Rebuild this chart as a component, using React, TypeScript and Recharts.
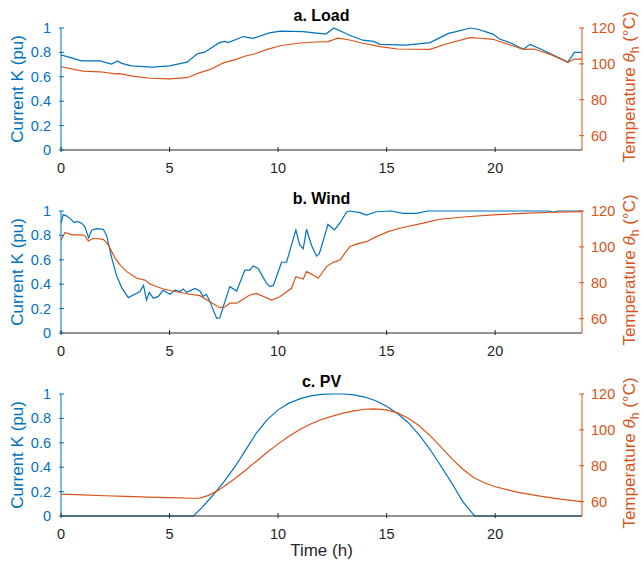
import { LineChart, Line, XAxis, YAxis } from "recharts"

const BLUE = "#0072BD"
const ORANGE = "#D95319"
const DARK = "#262626"
const FONT = "'Liberation Sans', Arial, Helvetica, sans-serif"

const timeTicks = [0, 5, 10, 15, 20]
const currentTicks = [0, 0.2, 0.4, 0.6, 0.8, 1]
const tempTicks = [60, 80, 100, 120]

// [time (h), K (pu)] and [time (h), theta_h (°C)]
const loadCurrent = [
  [0, 0.78], [0.95, 0.73], [1.8, 0.73], [2.33, 0.705], [2.6, 0.73], [2.8, 0.71],
  [3.25, 0.69], [4.2, 0.68], [5.0, 0.69], [5.8, 0.72], [6.3, 0.79], [6.6, 0.8],
  [7.3, 0.88], [7.55, 0.89], [7.7, 0.88], [8.4, 0.93], [8.85, 0.915], [9.6, 0.96],
  [10.1, 0.975], [11.15, 0.97], [12.2, 0.95], [12.57, 1.0], [13.3, 0.94], [13.9, 0.9],
  [14.4, 0.89], [14.7, 0.866], [15.9, 0.86], [17.0, 0.88], [17.85, 0.956], [18.2, 0.97],
  [18.85, 1.0], [19.2, 0.99], [19.9, 0.95], [20.2, 0.91], [20.75, 0.875], [21.3, 0.825],
  [21.6, 0.866], [22.2, 0.82], [23.35, 0.72], [23.65, 0.8], [24, 0.8],
]
const loadTemp = [
  [0, 98.4], [1, 96], [1.8, 95.6], [2.5, 94.4], [2.7, 94.6], [3.3, 93.2], [4.1, 92],
  [5, 91.6], [5.8, 92.3], [6.4, 95.1], [6.9, 97], [7.5, 100.7], [8, 102.2], [8.5, 104.4],
  [8.9, 105.5], [9.5, 108.1], [10.1, 110.1], [10.9, 111.5], [11.7, 112.2], [12.3, 112.4],
  [12.75, 114.3], [13.3, 113.3], [13.9, 111.5], [14.7, 109.6], [15.5, 108.3], [17, 108.1],
  [17.85, 111.5], [18.85, 114.6], [19.3, 114.3], [19.9, 113.7], [20.7, 110.5], [21.3, 108.1],
  [21.8, 108.3], [22.6, 105], [23.35, 100.9], [23.65, 102.7], [24, 102.6],
]

const windCurrent = [
  [0, 0.9], [0.1, 0.97], [0.25, 0.96], [0.5, 0.925], [0.6, 0.905], [0.75, 0.915],
  [0.95, 0.9], [1.1, 0.87], [1.27, 0.78], [1.42, 0.845], [1.65, 0.855], [1.95, 0.85],
  [2.1, 0.8], [2.33, 0.62], [2.56, 0.47], [2.8, 0.37], [3.1, 0.29], [3.4, 0.317],
  [3.64, 0.34], [3.8, 0.39], [3.94, 0.27], [4.07, 0.333], [4.25, 0.284], [4.48, 0.3],
  [4.71, 0.35], [5.02, 0.317], [5.25, 0.352], [5.48, 0.34], [5.63, 0.36], [5.79, 0.333],
  [6.17, 0.366], [6.4, 0.344], [6.55, 0.3], [6.7, 0.317], [6.86, 0.257], [7.17, 0.12],
  [7.32, 0.125], [7.55, 0.257], [7.78, 0.38], [8.09, 0.344], [8.47, 0.516], [8.7, 0.516],
  [8.85, 0.55], [9.08, 0.53], [9.47, 0.407], [9.62, 0.38], [9.78, 0.39], [10.16, 0.58],
  [10.39, 0.58], [10.82, 0.845], [11.0, 0.72], [11.16, 0.69], [11.31, 0.85], [11.54, 0.72],
  [11.77, 0.63], [11.9, 0.65], [12.3, 0.89], [12.6, 0.845], [12.84, 0.9], [13.15, 0.99],
  [13.3, 1.0], [13.77, 0.986], [14.07, 0.967], [14.53, 0.994], [15.2, 1.0], [15.76, 0.98],
  [16.37, 0.98], [16.9, 1.0], [22.5, 1.0], [22.7, 0.99], [22.9, 1.0], [24, 1.0],
]
const windTemp = [
  [0, 103.5], [0.18, 108], [0.5, 106.7], [0.95, 106.7], [1.1, 106.2], [1.26, 103.3],
  [1.49, 104.8], [1.95, 104.2], [2.18, 101.1], [2.49, 93.7], [2.72, 90], [3.03, 86.2],
  [3.49, 82.5], [3.87, 81.5], [4.1, 79.3], [4.71, 76.5], [5.32, 75], [5.94, 73.6],
  [6.4, 72.8], [6.86, 69.4], [7.32, 66.1], [7.55, 66.5], [7.78, 68.6], [8.09, 68.6],
  [8.7, 73.2], [9.0, 74.1], [9.7, 70.4], [10.08, 72.2], [10.39, 75], [10.62, 76.9],
  [10.82, 83.4], [11.16, 82.1], [11.31, 86.2], [11.62, 84.3], [11.85, 82.5], [12.23, 89],
  [12.54, 91.4], [12.85, 92.7], [13.3, 100.1], [13.6, 101.5], [14.07, 102.9], [14.53, 105.7],
  [15.07, 108.5], [15.6, 110.4], [16.68, 113.2], [17.45, 115.4], [18.68, 116.8], [19.9, 117.8],
  [21.28, 118.7], [22.66, 119.3], [24, 119.6],
]

const pvCurrent = [
  [0, 0], [6.1, 0], [6.5, 0.07], [7, 0.17], [7.5, 0.28], [8, 0.4], [8.5, 0.54], [9, 0.68],
  [9.5, 0.79], [10, 0.87], [10.5, 0.925], [11, 0.96], [11.5, 0.985], [12, 0.997], [12.5, 1],
  [13, 1], [13.5, 0.993], [14, 0.975], [14.5, 0.945], [15, 0.9], [15.5, 0.84], [16, 0.765],
  [16.5, 0.665], [17, 0.545], [17.5, 0.41], [18, 0.27], [18.5, 0.12], [19.05, 0], [24, 0],
]
const pvTemp = [
  [0, 64.2], [1, 63.8], [2, 63.3], [3, 62.9], [4, 62.5], [5, 62.2], [6, 61.9], [6.4, 62.0],
  [6.8, 63.5], [7.2, 66], [7.6, 69.3], [8, 72.8], [8.5, 77.5], [9, 82.5], [9.5, 87.5],
  [10, 92.2], [10.5, 96.5], [11, 100.2], [11.5, 103.3], [12, 105.8], [12.5, 107.7],
  [13, 109.3], [13.5, 110.6], [14, 111.5], [14.4, 111.7], [15, 111.1], [15.5, 109.5],
  [16, 106.5], [16.5, 102.3], [17, 96.8], [17.5, 90.5], [18, 84], [18.5, 78.2], [19, 73.5],
  [19.5, 70.5], [20, 68.3], [21, 65.3], [22, 63.2], [23, 61.4], [24, 60],
]

const toPoints = (pairs: number[][]) => pairs.map(([t, v]) => ({ t, v }))

const TICK_FONT = 14.5
const LABEL_FONT = 17
const PLOT_TOP = 28
const PLOT_H = 122

function BottomTick({ x, y, payload }: any) {
  return (
    <g>
      <line x1={x} y1={y} x2={x} y2={y - 5} stroke={DARK} />
      <text x={x} y={y + 21} textAnchor="middle" fill={DARK} fontSize={TICK_FONT} fontFamily={FONT}>
        {payload.value}
      </text>
    </g>
  )
}

function TopTick({ x, y }: any) {
  return <line x1={x} y1={y} x2={x} y2={y + 5} stroke={DARK} />
}

function LeftTick({ x, y, payload }: any) {
  return (
    <g>
      <line x1={x} y1={y} x2={x + 5} y2={y} stroke={BLUE} />
      <text x={x - 8} y={y + 5} textAnchor="end" fill={BLUE} fontSize={TICK_FONT} fontFamily={FONT}>
        {payload.value}
      </text>
    </g>
  )
}

function RightTick({ x, y, payload }: any) {
  return (
    <g>
      <line x1={x} y1={y} x2={x - 5} y2={y} stroke={ORANGE} />
      <text x={x + 7} y={y + 5} textAnchor="start" fill={ORANGE} fontSize={TICK_FONT} fontFamily={FONT}>
        {payload.value}
      </text>
    </g>
  )
}

const leftLabel = ({ viewBox }: any) => {
  const cx = 23
  const cy = viewBox.y + viewBox.height / 2
  return (
    <text x={cx} y={cy} transform={`rotate(-90 ${cx} ${cy})`} textAnchor="middle"
      fill={BLUE} fontSize={LABEL_FONT} fontFamily={FONT}>
      Current K (pu)
    </text>
  )
}

const rightLabel = ({ viewBox }: any) => {
  const cx = viewBox.x + 53
  const cy = viewBox.y + viewBox.height / 2 - 2
  return (
    <text x={cx} y={cy} transform={`rotate(-90 ${cx} ${cy})`} textAnchor="middle"
      fill={ORANGE} fontSize={LABEL_FONT} fontFamily={FONT}>
      Temperature <tspan fontStyle="italic">θ</tspan>
      <tspan dy={4} fontSize={12}>h</tspan>
      <tspan dy={-4}> (°C)</tspan>
    </text>
  )
}

// title above the plot, plus the time label under the last panel
const bottomLabel = (title: string, withTime: boolean) => ({ viewBox }: any) => {
  const cx = viewBox.x + viewBox.width / 2
  return (
    <g>
      <text x={cx} y={viewBox.y - PLOT_H - 7} textAnchor="middle"
        fill="#000" fontSize={16} fontWeight="bold" fontFamily={FONT}>
        {title}
      </text>
      {withTime && (
        <text x={cx} y={viewBox.y + 40} textAnchor="middle"
          fill={DARK} fontSize={LABEL_FONT} fontFamily={FONT}>
          Time (h)
        </text>
      )}
    </g>
  )
}

interface PanelProps {
  title: string
  current: number[][]
  temp: number[][]
  top: number
  last?: boolean
}

function Panel({ title, current, temp, top, last = false }: PanelProps) {
  const height = last ? 201 : 183
  return (
    <div style={{ position: "absolute", left: 0, top }}>
      <LineChart width={644} height={height} margin={{ top: PLOT_TOP, right: 0, bottom: 0, left: 0 }}>
        <XAxis
          xAxisId="bottom"
          type="number"
          dataKey="t"
          domain={[0, 24]}
          ticks={timeTicks}
          interval={0}
          tickSize={0}
          tickLine={false}
          axisLine={{ stroke: DARK }}
          tick={<BottomTick />}
          height={height - PLOT_TOP - PLOT_H}
          label={bottomLabel(title, last)}
        />
        <XAxis
          xAxisId="top"
          orientation="top"
          type="number"
          dataKey="t"
          domain={[0, 24]}
          ticks={timeTicks}
          interval={0}
          tickSize={0}
          tickLine={false}
          axisLine={{ stroke: DARK }}
          tick={<TopTick />}
          height={0}
        />
        <YAxis
          yAxisId="k"
          domain={[0, 1]}
          ticks={currentTicks}
          interval={0}
          width={61}
          tickSize={0}
          tickLine={false}
          axisLine={{ stroke: BLUE }}
          tick={<LeftTick />}
          label={leftLabel}
        />
        <YAxis
          yAxisId="temp"
          orientation="right"
          domain={[52, 120]}
          ticks={tempTicks}
          interval={0}
          width={62}
          tickSize={0}
          tickLine={false}
          axisLine={{ stroke: ORANGE }}
          tick={<RightTick />}
          label={rightLabel}
        />
        <Line
          xAxisId="bottom"
          yAxisId="k"
          data={toPoints(current)}
          dataKey="v"
          type="linear"
          stroke={BLUE}
          strokeWidth={1.2}
          dot={false}
          isAnimationActive={false}
        />
        <Line
          xAxisId="bottom"
          yAxisId="temp"
          data={toPoints(temp)}
          dataKey="v"
          type="linear"
          stroke={ORANGE}
          strokeWidth={1.2}
          dot={false}
          isAnimationActive={false}
        />
      </LineChart>
    </div>
  )
}

export default function App() {
  return (
    <div style={{ position: "absolute", left: 0, top: 0, width: 644, height: 567, background: "#fff" }}>
      <Panel title="a. Load" current={loadCurrent} temp={loadTemp} top={0} />
      <Panel title="b. Wind" current={windCurrent} temp={windTemp} top={183} />
      <Panel title="c. PV" current={pvCurrent} temp={pvTemp} top={366} last />
    </div>
  )
}
